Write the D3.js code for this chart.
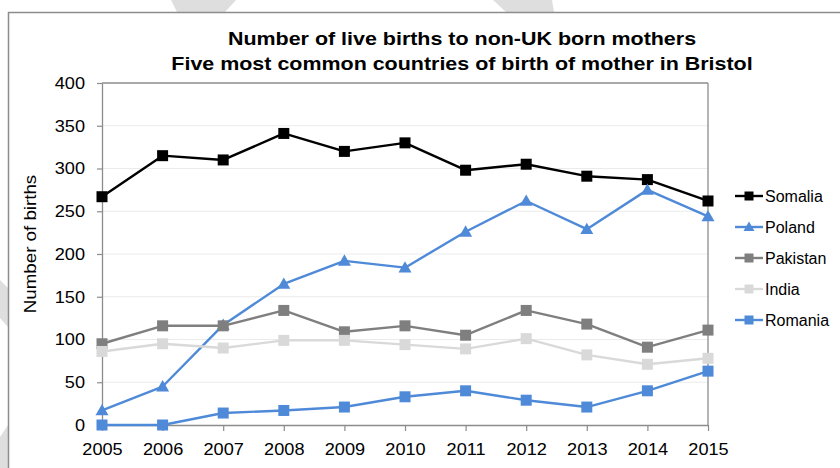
<!DOCTYPE html>
<html><head><meta charset="utf-8">
<script src="https://cdn.jsdelivr.net/npm/d3@7"></script>
<style>
html,body{margin:0;padding:0;background:#fff;}
text{font-family:"Liberation Sans",Arial,sans-serif;fill:#000;}
</style></head>
<body>
<svg id="chart" width="840" height="468"></svg>
<script>
const years = ["2005","2006","2007","2008","2009","2010","2011","2012","2013","2014","2015"];
const somalia  = [267, 315, 310, 341, 320, 330, 298, 305, 291, 287, 262];
const poland   = [17, 45, 117, 165, 192, 184, 226, 262, 229, 275, 244];
const pakistan = [95, 116, 116, 134, 109, 116, 105, 134, 118, 91, 111];
const india    = [86, 95, 90, 99, 99, 94, 89, 101, 82, 71, 78];
const romania  = [0, 0, 14, 17, 21, 33, 40, 29, 21, 40, 63];
const yTicks = [0, 50, 100, 150, 200, 250, 300, 350, 400];
const titleLines = ["Number of live births to non-UK born mothers",
                    "Five most common countries of birth of mother in Bristol"];
const yTitle = "Number of births";

const series = [
  {name:"Somalia",  values:somalia,  color:"#000000", marker:"square"},
  {name:"Poland",   values:poland,   color:"#4f8ad8", marker:"triangle"},
  {name:"Pakistan", values:pakistan, color:"#7f7f7f", marker:"square"},
  {name:"India",    values:india,    color:"#d9d9d9", marker:"square"},
  {name:"Romania",  values:romania,  color:"#4f8ad8", marker:"square"}
];

(function(){
const svg = d3.select("#chart");
const W = 840, H = 468;
svg.append("rect").attr("width",W).attr("height",H).attr("fill","#fff");

// faint watermark fragments outside the chart frame
const wm = [
  [[171,0],[236,0],[225,12],[177,12]],
  [[493,0],[552,0],[554,12],[506,12]],
  [[0,280],[8,288],[8,327],[0,318]],
  [[8,425],[8,468],[0,468],[0,437]]
];
svg.selectAll("polygon.wm").data(wm).enter().append("polygon")
  .attr("points", d => d.map(p => p.join(",")).join(" "))
  .attr("fill","#dedede");

// chart frame
svg.append("rect").attr("x",8.5).attr("y",12.5).attr("width",840).attr("height",470)
  .attr("fill","#fff").attr("stroke","#8c8c8c").attr("stroke-width",1.5);

const pL = 102, pR = 708, pT = 83, pB = 425;
const x = d3.scalePoint().domain(years).range([pL, pR]);
const y = d3.scaleLinear().domain([0, 400]).range([pB, pT]);

// gridlines
svg.append("g").selectAll("line").data(yTicks.filter(v => v > 0 && v < 400)).enter().append("line")
  .attr("x1", pL).attr("x2", pR)
  .attr("y1", d => y(d)).attr("y2", d => y(d))
  .attr("stroke","#ebebeb").attr("stroke-width",1.2);

// plot border top/right
svg.append("line").attr("x1",pL).attr("x2",pR).attr("y1",pT).attr("y2",pT)
  .attr("stroke","#8c8c8c").attr("stroke-width",1.3);
svg.append("line").attr("x1",pR).attr("x2",pR).attr("y1",pT).attr("y2",pB)
  .attr("stroke","#8c8c8c").attr("stroke-width",1.3);

const sx = 1.1;
// y axis
const gy = svg.append("g").attr("transform",`translate(${pL},0)`)
  .call(d3.axisLeft(y).tickValues(yTicks).tickSize(5).tickSizeOuter(0).tickPadding(12));
gy.select(".domain").attr("stroke","#8c8c8c").attr("stroke-width",1.3);
gy.selectAll(".tick line").attr("stroke","#8c8c8c").attr("stroke-width",1.2);
gy.selectAll(".tick text").attr("font-size","16.5px").attr("fill","#000")
  .attr("font-family","Liberation Sans, Arial, sans-serif")
  .attr("x", -17/sx).attr("transform",`scale(${sx},1)`);

// x axis
const gx = svg.append("g").attr("transform",`translate(0,${pB})`)
  .call(d3.axisBottom(x).tickSize(6).tickSizeOuter(0).tickPadding(12));
gx.select(".domain").attr("stroke","#8c8c8c").attr("stroke-width",1.3);
gx.selectAll(".tick line").attr("stroke","#8c8c8c").attr("stroke-width",1.2);
gx.selectAll(".tick text").attr("font-size","16.5px").attr("fill","#000")
  .attr("font-family","Liberation Sans, Arial, sans-serif")
  .attr("transform",`scale(${sx},1)`);

// title
const tg = svg.append("g");
titleLines.forEach((t, i) => {
  tg.append("text").attr("transform",`translate(462,${i === 0 ? 45 : 70}) scale(1.16,1)`)
    .attr("text-anchor","middle").attr("font-weight","bold").attr("font-size","18.5px").text(t);
});

// y axis title
svg.append("text").attr("transform","translate(36,244) rotate(-90) scale(1.15,1)")
  .attr("text-anchor","middle").attr("font-size","16.3px").text(yTitle);

const line = d3.line().x((d,i) => x(years[i])).y(d => y(d));
function drawMarker(g, type, cx, cy, size, color) {
  if (type === "square") {
    g.append("rect").attr("x", cx - size/2).attr("y", cy - size/2)
      .attr("width", size).attr("height", size).attr("fill", color);
  } else {
    const h = size * 0.9;
    g.append("path").attr("d", `M${cx},${cy - h*0.6}L${cx + size/2 + 0.5},${cy + h*0.45}L${cx - size/2 - 0.5},${cy + h*0.45}Z`)
      .attr("fill", color);
  }
}

series.forEach(s => {
  const g = svg.append("g");
  g.append("path").attr("d", line(s.values)).attr("fill","none")
    .attr("stroke", s.color).attr("stroke-width", 2.4).attr("stroke-linejoin","round");
  s.values.forEach((v, i) => drawMarker(g, s.marker, x(years[i]), y(v), s.marker === "square" ? 11 : 12, s.color));
});

// legend
const legY = [196, 227, 258, 289, 320];
series.forEach((s, i) => {
  const g = svg.append("g");
  g.append("line").attr("x1",735).attr("x2",763).attr("y1",legY[i]).attr("y2",legY[i])
    .attr("stroke", s.color).attr("stroke-width", 2.4);
  drawMarker(g, s.marker, 749, legY[i], s.marker === "square" ? 9 : 10, s.color);
  g.append("text").attr("x",765).attr("y",legY[i]).attr("dy","0.35em")
    .attr("font-size","16px").text(s.name);
});
})();
</script>
</body></html>
